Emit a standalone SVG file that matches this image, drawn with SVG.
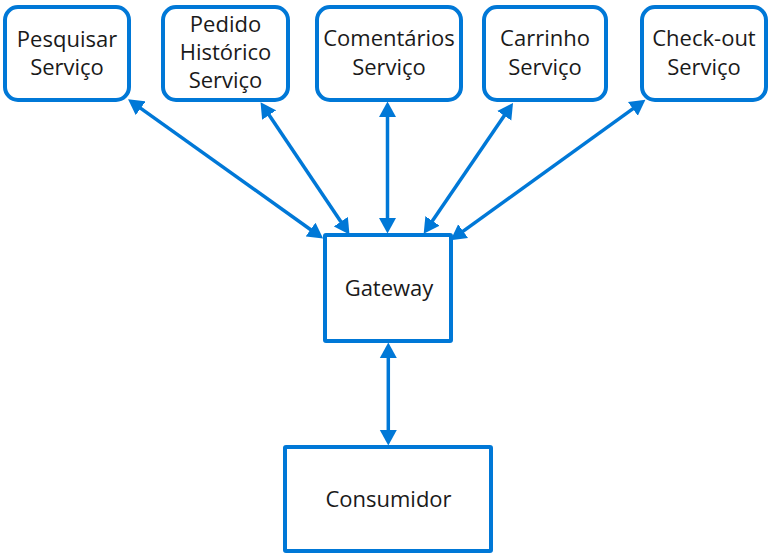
<svg xmlns="http://www.w3.org/2000/svg" width="772" height="556" viewBox="0 0 772 556">
<style>
.svc{fill:#fff;stroke:#0078D7;stroke-width:4}
.box{fill:#fff;stroke:#0078D7;stroke-width:4}
.t{font-family:"Open Sans","Noto Sans","DejaVu Sans",sans-serif;font-size:22px;fill:#1a1a1a;text-anchor:middle}
.c{stroke:#0078D7;stroke-width:3.5;fill:none;marker-start:url(#ah);marker-end:url(#ah)}
</style>
<defs>
<marker id="ah" markerUnits="userSpaceOnUse" markerWidth="16" markerHeight="18" viewBox="0 0 16 18" refX="5" refY="9" orient="auto-start-reverse">
<path d="M0,0.5 L15.5,9 L0,17.5 Z" fill="#0078D7"/>
</marker>
</defs>
<rect width="772" height="556" fill="#fff"/>
<g id="connectors">
<line class="c" x1="136.6" y1="105.3" x2="314.6" y2="232.5"/>
<line class="c" x1="266.4" y1="110.9" x2="343.6" y2="225.8"/>
<line class="c" x1="387.5" y1="112" x2="387.5" y2="223"/>
<line class="c" x1="507.1" y1="111.6" x2="429.6" y2="225.0"/>
<line class="c" x1="636.9" y1="105.9" x2="459.1" y2="234.1"/>
<line class="c" x1="388.3" y1="353" x2="388.3" y2="435"/>
</g>
<g id="pesquisar">
<rect class="svc" x="5" y="7" width="124" height="93" rx="13"/>
<text class="t" x="67" y="47">Pesquisar</text>
<text class="t" x="67" y="75">Serviço</text>
</g>
<g id="pedido">
<rect class="svc" x="163" y="7" width="125" height="93" rx="13"/>
<text class="t" x="225.5" y="32">Pedido</text>
<text class="t" x="225.5" y="60">Histórico</text>
<text class="t" x="225.5" y="88">Serviço</text>
</g>
<g id="comentarios">
<rect class="svc" x="317" y="7" width="144" height="93" rx="13"/>
<text class="t" x="389" y="46">Comentários</text>
<text class="t" x="389" y="75">Serviço</text>
</g>
<g id="carrinho">
<rect class="svc" x="484" y="7" width="122" height="93" rx="13"/>
<text class="t" x="545" y="46">Carrinho</text>
<text class="t" x="545" y="75">Serviço</text>
</g>
<g id="checkout">
<rect class="svc" x="642" y="7" width="124" height="93" rx="13"/>
<text class="t" x="704" y="46">Check-out</text>
<text class="t" x="704" y="75">Serviço</text>
</g>
<g id="gateway">
<rect class="box" x="325" y="235" width="126" height="106" rx="1"/>
<text class="t" x="389" y="296">Gateway</text>
</g>
<g id="consumidor">
<rect class="box" x="285" y="447" width="206" height="104" rx="1"/>
<text class="t" x="388.5" y="507">Consumidor</text>
</g>
</svg>
